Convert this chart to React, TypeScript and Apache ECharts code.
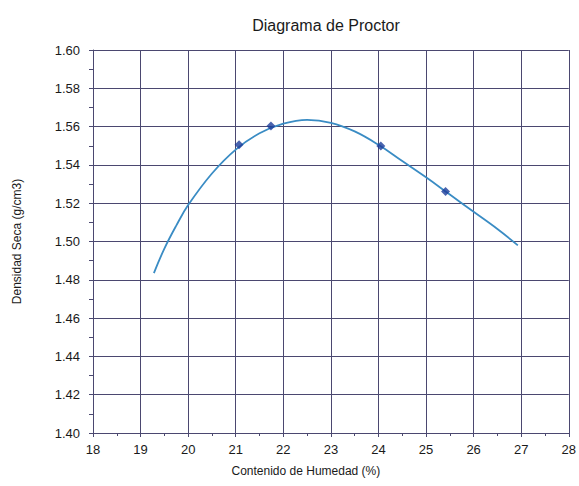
import React, { useEffect, useRef } from "react";
import * as echarts from "echarts";

const TITLE = "Diagrama de Proctor";
const X_NAME = "Contenido de Humedad (%)";
const Y_NAME = "Densidad Seca (g/cm3)";

// Measured points (moisture %, dry density)
const pointX = [21.07, 21.74, 24.05, 25.41];
const pointY = [1.5505, 1.5603, 1.5499, 1.5261];

// Fitted curve
const curveX = [19.28, 19.5, 19.75, 20, 20.5, 21, 21.5, 22, 22.5, 23, 23.5, 24, 24.5, 25, 25.5, 26, 26.5, 26.93];
const curveY = [1.4835, 1.4963, 1.5083, 1.519, 1.5355, 1.548, 1.5565, 1.5615, 1.5635, 1.562, 1.5575, 1.5505, 1.542, 1.5335, 1.5245, 1.5155, 1.5065, 1.498];

const GRID_COLOR = "#4b4870";
const FONT = "Liberation Sans";

export default function App() {
  const ref = useRef<HTMLDivElement>(null);
  useEffect(() => {
    if (!ref.current) return;
    const chart = echarts.init(ref.current, undefined, { renderer: "svg" });
    chart.setOption({
      animation: false,
      backgroundColor: "#ffffff",
      title: {
        text: TITLE,
        left: 321,
        top: 12,
        textAlign: "center",
        textStyle: { fontFamily: FONT, fontSize: 16, fontWeight: "normal", color: "#1a1a1a" },
      },
      grid: { left: 93, right: 9, top: 50, bottom: 53 },
      xAxis: {
        type: "value",
        min: 18,
        max: 28,
        interval: 1,
        name: X_NAME,
        nameLocation: "middle",
        nameGap: 32,
        nameTextStyle: { fontFamily: FONT, fontSize: 12, color: "#1a1a1a", padding: [0, 50, 0, 0] },
        axisLine: { show: true, lineStyle: { color: GRID_COLOR, width: 1 } },
        axisTick: { show: true, length: 4, lineStyle: { color: GRID_COLOR } },
        minorTick: { show: true, splitNumber: 2, length: 3, lineStyle: { color: GRID_COLOR } },
        axisLabel: { fontFamily: FONT, fontSize: 13, color: "#1a1a1a", margin: 10 },
        splitLine: { show: true, lineStyle: { color: GRID_COLOR, width: 1 } },
      },
      yAxis: {
        type: "value",
        min: 1.4,
        max: 1.6,
        interval: 0.02,
        name: Y_NAME,
        nameLocation: "middle",
        nameGap: 70,
        nameTextStyle: { fontFamily: FONT, fontSize: 12, color: "#1a1a1a" },
        axisLine: { show: true, lineStyle: { color: GRID_COLOR, width: 1 } },
        axisTick: { show: true, length: 4, lineStyle: { color: GRID_COLOR } },
        minorTick: { show: true, splitNumber: 2, length: 4, lineStyle: { color: GRID_COLOR } },
        axisLabel: {
          fontFamily: FONT,
          fontSize: 13,
          color: "#1a1a1a",
          margin: 13,
          formatter: (v: number) => v.toFixed(2),
        },
        splitLine: { show: true, lineStyle: { color: GRID_COLOR, width: 1 } },
      },
      series: [
        {
          type: "line",
          data: curveX.map((x, i) => [x, curveY[i]]),
          smooth: 0.4,
          symbol: "none",
          lineStyle: { color: "#3a8cc4", width: 1.8 },
          z: 2,
        },
        {
          type: "scatter",
          data: pointX.map((x, i) => [x, pointY[i]]),
          symbol: "diamond",
          symbolSize: 9,
          itemStyle: { color: "#1c3c9a" },
          z: 3,
        },
      ],
    });
    return () => chart.dispose();
  }, []);
  return <div ref={ref} style={{ width: 579, height: 486, position: "absolute", left: 0, top: 0 }} />;
}
